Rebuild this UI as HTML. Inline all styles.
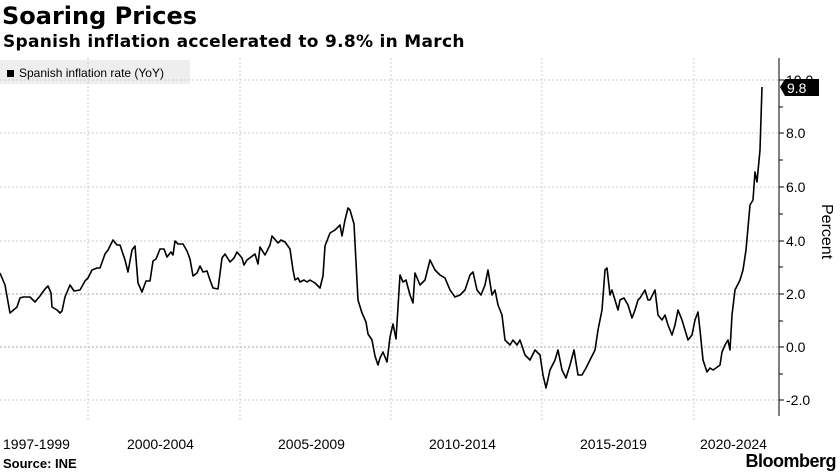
<!DOCTYPE html><html><head><meta charset="utf-8"><style>
body{margin:0;width:840px;height:473px;background:#fff;font-family:"Liberation Sans",sans-serif;position:relative;overflow:hidden}
.a{position:absolute;white-space:nowrap}
</style></head><body>
<div class="a" style="left:2px;top:2px;font-size:24px;font-weight:bold;color:#000;font-family:'DejaVu Sans',sans-serif">Soaring Prices</div>
<div class="a" style="left:3px;top:32px;font-size:17px;letter-spacing:0.3px;font-weight:bold;color:#000;font-family:'DejaVu Sans',sans-serif">Spanish inflation accelerated to 9.8% in March</div>
<div class="a" style="left:0;top:60px;width:190px;height:24px;background:#eee"></div>
<div class="a" style="left:7px;top:66px;font-size:12px;color:#000"><span style="display:inline-block;width:7px;height:7px;background:#000;margin-right:5px"></span>Spanish inflation rate (YoY)</div>
<svg class="a" style="left:0;top:0" width="840" height="473">
<g stroke="#ccc" stroke-dasharray="2,2" stroke-width="1">
<line x1="0" y1="80" x2="779" y2="80"/><line x1="0" y1="133" x2="779" y2="133"/><line x1="0" y1="187" x2="779" y2="187"/><line x1="0" y1="241" x2="779" y2="241"/><line x1="0" y1="294" x2="779" y2="294" stroke="#aaa"/><line x1="0" y1="347" x2="779" y2="347" stroke="#aaa"/><line x1="0" y1="400" x2="779" y2="400"/>
<line x1="88" y1="58" x2="88" y2="420"/><line x1="240" y1="58" x2="240" y2="420"/><line x1="391" y1="58" x2="391" y2="420"/><line x1="542" y1="58" x2="542" y2="420"/><line x1="694" y1="58" x2="694" y2="420"/>
</g>
<line x1="779" y1="58" x2="779" y2="416" stroke="#000"/>
<g stroke="#000"><line x1="779" y1="80" x2="784" y2="80"/><line x1="779" y1="107" x2="783" y2="107"/><line x1="779" y1="133" x2="784" y2="133"/><line x1="779" y1="160" x2="783" y2="160"/><line x1="779" y1="187" x2="784" y2="187"/><line x1="779" y1="214" x2="783" y2="214"/><line x1="779" y1="241" x2="784" y2="241"/><line x1="779" y1="267" x2="783" y2="267"/><line x1="779" y1="294" x2="784" y2="294"/><line x1="779" y1="321" x2="783" y2="321"/><line x1="779" y1="347" x2="784" y2="347"/><line x1="779" y1="374" x2="783" y2="374"/><line x1="779" y1="400" x2="784" y2="400"/></g>
<g font-size="14" fill="#000"><text x="786" y="85">10.0</text><text x="786" y="138">8.0</text><text x="786" y="192">6.0</text><text x="786" y="246">4.0</text><text x="786" y="299">2.0</text><text x="786" y="352">0.0</text><text x="786" y="405">-2.0</text></g>
<polygon points="780,87 785,79 819,79 819,96 785,96" fill="#000"/>
<text x="787" y="93" font-size="14" fill="#fff">9.8</text>
<polyline fill="none" stroke="#000" stroke-width="1.6" stroke-linejoin="round" points="0,273 5,285 10,313 17,307 20,298 23,297 30,297 35,302 40,296 45,289 48,286 51,293 52,307 57,310 60,313 62,311 65,297 70,285 74,291 80,290 85,281 88,278 92,270 97,268 100,268 105,254 108,250 113,240 117,245 120,245 125,260 128,272 132,250 135,246 138,283 142,292 146,281 150,281 153,261 156,259 160,249 164,249 167,257 171,252 173,255 175,241 178,244 183,244 187,251 190,259 193,276 197,273 200,266 203,272 207,271 210,280 213,288 218,289 222,258 225,254 230,262 234,258 237,252 242,258 244,265 247,260 255,254 258,264 260,247 265,255 270,245 272,236 278,243 281,240 285,242 290,249 293,270 295,280 298,278 300,282 304,280 307,282 310,280 315,283 320,288 323,276 325,246 330,233 335,230 340,225 342,236 345,220 348,208 350,210 354,224 358,300 362,313 366,322 368,334 372,340 375,356 378,365 380,358 383,352 387,362 390,337 393,324 396,339 400,275 403,282 406,280 410,295 413,303 415,273 420,285 425,280 430,260 435,270 440,275 445,278 450,290 455,297 460,295 465,290 470,275 473,272 477,290 481,295 485,285 488,270 492,295 495,290 498,305 502,315 505,340 510,345 513,340 517,345 520,340 525,355 530,360 535,350 540,355 543,375 546,388 550,370 555,360 558,350 562,370 566,378 570,365 574,350 578,375 582,375 586,368 590,360 595,350 598,330 602,310 605,270 607,268 610,295 612,290 615,300 618,310 620,300 624,298 628,305 632,318 635,310 638,300 640,298 645,290 648,300 650,300 655,290 658,315 662,320 665,315 668,325 672,335 675,325 678,310 682,320 685,330 688,340 692,335 695,320 698,312 700,330 703,360 707,372 710,368 713,370 716,368 720,365 722,352 725,345 728,340 730,350 732,315 735,290 740,280 743,270 746,250 750,205 753,200 755,172 757,182 760,150 762,87"/>
<text x="822" y="204" font-size="16" fill="#000" transform="rotate(90 822 204)" text-anchor="start">Percent</text>
<g font-size="14" fill="#000"><text x="3" y="449">1997-1999</text><text x="127" y="449">2000-2004</text><text x="278" y="449">2005-2009</text><text x="429" y="449">2010-2014</text><text x="580" y="449">2015-2019</text><text x="700" y="449">2020-2024</text></g>
</svg>
<div class="a" style="left:3px;top:456px;font-size:13px;font-weight:bold">Source: INE</div>
<div class="a" style="right:4px;top:451px;font-size:18px;font-weight:bold;letter-spacing:-0.5px">Bloomberg</div>
</body></html>
